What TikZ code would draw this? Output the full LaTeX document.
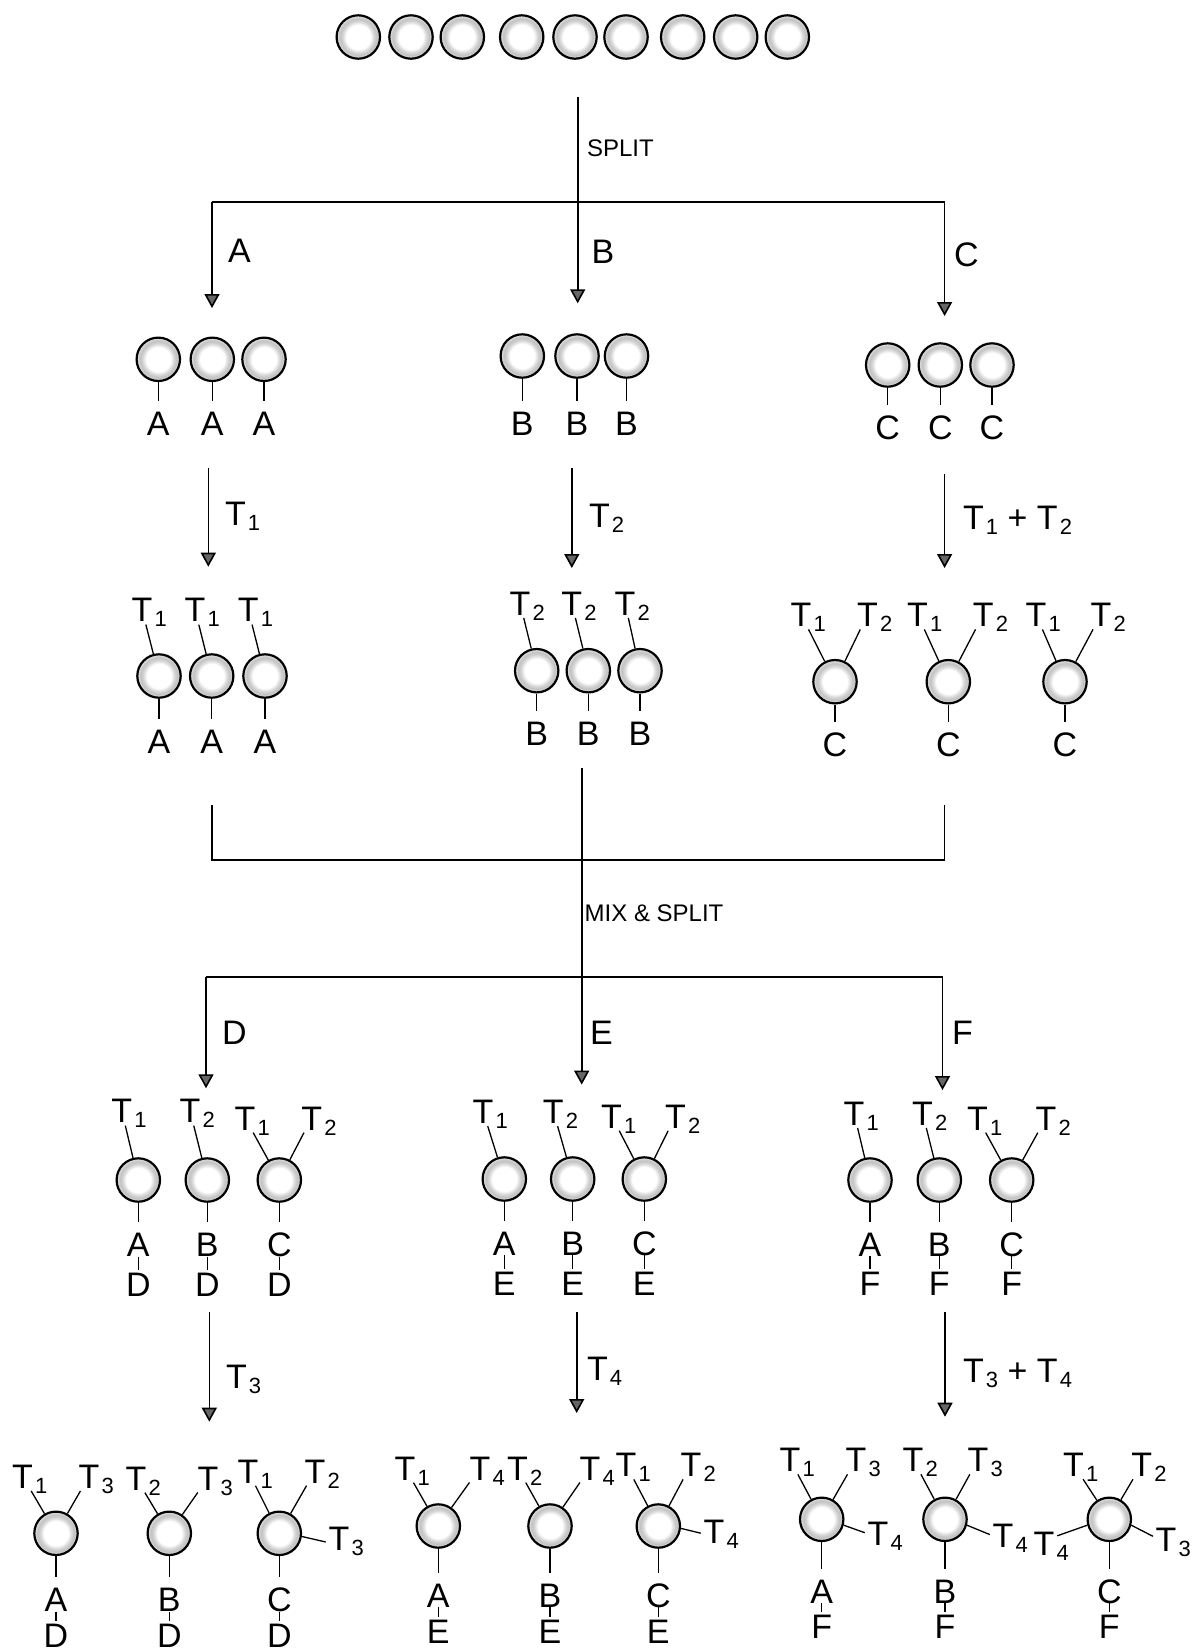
\documentclass[tikz,border=0pt]{standalone}
\usepackage{fontspec}
\setmainfont{Liberation Sans}
\usetikzlibrary{arrows.meta}

% bead: white core, light grey ring towards the rim
\pgfdeclareradialshading{beadshade}{\pgfpoint{0bp}{0bp}}{%
  color(0bp)=(white); color(14bp)=(white); color(18bp)=(black!16);
  color(21bp)=(black!24); color(23.5bp)=(black!16); color(25bp)=(black!8);
  color(50bp)=(black!8)}

\newcommand{\sbfont}{\fontsize{11}{12}\selectfont}
% T with a subscript that takes no width (node centred on the T)
\newcommand{\Tlab}[1]{T\rlap{\kern1.1pt\raisebox{-2.5pt}{\sbfont #1}}}
% T with a subscript in running text
\newcommand{\Tsb}[1]{T\kern1.1pt\raisebox{-2.5pt}{\sbfont #1}}

\tikzset{
  bead/.style={circle, draw, line width=1.1pt, minimum size=21.7pt,
    inner sep=0pt, shade, shading=beadshade},
  lab/.style={font=\fontsize{17}{20}\selectfont, inner sep=0pt, outer sep=0pt,
    text height=12.2pt, text depth=0pt, anchor=base},
  alab/.style={lab, anchor=base west},
  small/.style={font=\fontsize{12}{14}\selectfont, inner sep=0pt, anchor=base west},
  stem/.style={line width=0.65pt},
  rail/.style={line width=0.8pt},
  flow/.style={line width=0.8pt, -{Triangle[length=7pt,width=7.5pt,fill=black!60]}},
}

% bead with a letter below it
\newcommand{\beadL}[5]{%
  \node[bead] (#1) at (#2,#3) {};
  \node[lab] (#1l) at (#2,#4) {#5};
  \draw[stem, shorten >=5pt] (#1) -- (#1l);}
% second letter hanging below the first
\newcommand{\lowL}[4]{%
  \node[lab] (#1m) at (#2,#3) {#4};
  \draw[stem, shorten >=1pt] (#1l.south) -- (#1m.north);}
% T tag above a bead
\newcommand{\tagT}[5]{%
  \node[lab] (#1#2) at (#3,#4) {\Tlab{#5}};
  \draw[stem, shorten >=1.5pt] (#1) -- (#1#2);}
% T tag beside a bead: bead anchor angle #6, tag anchor angle #7
\newcommand{\sideT}[7]{%
  \node[lab] (#1#2) at (#3,#4) {\Tlab{#5}};
  \draw[stem, shorten >=1.5pt] (#1.#6) -- (#1#2.#7);}

\begin{document}
\begin{tikzpicture}[x=0.5pt, y=-0.5pt]
\useasboundingbox (0,0) rectangle (1191,1651);

% ---------- starting beads ----------
\foreach \x [count=\i] in {358.3,411,462.3,521.7,575,626,682.7,735.7,787.3}
  \node[bead] (top\i) at (\x,37) {};

% ---------- first split ----------
\coordinate (sTop) at (577.7,96.7);
\coordinate (sL) at (212,201.7);
\coordinate (sR) at (944.6,201.7);
\coordinate (tipA) at (212,308);
\coordinate (tipB) at (577.7,303.3);
\coordinate (tipC) at (944.6,316);
\draw[rail] (sL) -- (sR);
\draw[flow] (sTop) -- (tipB);
\draw[flow] (sL) -- (tipA);
\draw[flow] (sR) -- (tipC);
\node[small] (splitlab) at (586.7,156) {SPLIT};
\node[alab] (labA) at (228,262) {A};
\node[alab] (labB) at (591.7,263.3) {B};
\node[alab] (labC) at (954,266) {C};

% ---------- beads after coupling A, B, C ----------
\beadL{ra1}{158.3}{359.3}{435}{A}
\beadL{ra2}{212.3}{359.3}{435}{A}
\beadL{ra3}{264}{359.3}{435}{A}
\beadL{rb1}{522.3}{356}{435}{B}
\beadL{rb2}{577}{356}{435}{B}
\beadL{rb3}{626.5}{356}{435}{B}
\beadL{rc1}{887.7}{365}{439}{C}
\beadL{rc2}{940.3}{365}{439}{C}
\beadL{rc3}{992}{365}{439}{C}

% ---------- tagging T1 / T2 ----------
\coordinate (t1s) at (208.3,468.3);   \coordinate (t1e) at (208.3,566.7);
\coordinate (t2s) at (571.8,468.3);   \coordinate (t2e) at (571.8,568);
\coordinate (t12s) at (944.6,474);    \coordinate (t12e) at (944.6,568);
\draw[flow] (t1s) -- (t1e);
\draw[flow] (t2s) -- (t2e);
\draw[flow] (t12s) -- (t12e);
\node[alab] (lt1) at (225,525) {\Tsb{1}};
\node[alab] (lt2) at (589,527) {\Tsb{2}};
\node[alab] (lt12) at (963,529) {\Tsb{1} + \Tsb{2}};

\beadL{sa1}{159}{676}{753.3}{A}   \tagT{sa1}{t}{142}{621.7}{1}
\beadL{sa2}{211.7}{676}{753.3}{A} \tagT{sa2}{t}{195}{621.7}{1}
\beadL{sa3}{265}{676}{753.3}{A}   \tagT{sa3}{t}{248.3}{621.7}{1}
\beadL{sb1}{536.7}{670.7}{745.7}{B} \tagT{sb1}{t}{520}{615}{2}
\beadL{sb2}{588.3}{670.7}{745.7}{B} \tagT{sb2}{t}{571.7}{615}{2}
\beadL{sb3}{640}{670.7}{745.7}{B}   \tagT{sb3}{t}{625}{615}{2}
\beadL{sc1}{835}{681.7}{756.7}{C}
  \tagT{sc1}{a}{801}{626.7}{1} \tagT{sc1}{b}{867.5}{626.7}{2}
\beadL{sc2}{948.3}{681.7}{756.7}{C}
  \tagT{sc2}{a}{917.5}{626.7}{1} \tagT{sc2}{b}{983.3}{626.7}{2}
\beadL{sc3}{1065}{681.7}{756.7}{C}
  \tagT{sc3}{a}{1036}{626.7}{1} \tagT{sc3}{b}{1101}{626.7}{2}

% ---------- mix & split ----------
\coordinate (mL) at (212,805);
\coordinate (mR) at (944.6,805);
\coordinate (mB) at (944.6,860);
\draw[rail] (mL) |- (mB) -- (mR);
\coordinate (mTop) at (581.7,768);
\coordinate (tipE) at (581.7,1084.6);
\draw[flow] (mTop) -- (tipE);
\node[small] (mixlab) at (584.3,921.7) {MIX \& SPLIT};
\coordinate (nL) at (206,976.7);
\coordinate (nR) at (942.5,976.7);
\coordinate (tipD) at (206,1088.3);
\coordinate (tipF) at (942.5,1090);
\draw[rail] (nL) -- (nR);
\draw[flow] (nL) -- (tipD);
\draw[flow] (nR) -- (tipF);
\node[alab] (labD) at (222,1044) {D};
\node[alab] (labE) at (590,1044) {E};
\node[alab] (labF) at (952,1044) {F};

% ---------- beads after coupling D, E, F ----------
\beadL{ua1}{138.3}{1180}{1256.7}{A} \lowL{ua1}{138.3}{1296.7}{D}
  \tagT{ua1}{t}{121.7}{1122.7}{1}
\beadL{ua2}{207.3}{1180}{1256.7}{B} \lowL{ua2}{207.3}{1296.7}{D}
  \tagT{ua2}{t}{190}{1122.7}{2}
\beadL{ua3}{279.3}{1180}{1256.7}{C} \lowL{ua3}{279.3}{1296.7}{D}
  \tagT{ua3}{a}{245}{1130}{1} \tagT{ua3}{b}{311.7}{1130}{2}

\beadL{ub1}{504.3}{1179}{1255}{A} \lowL{ub1}{504.3}{1295}{E}
  \tagT{ub1}{t}{483}{1123.3}{1}
\beadL{ub2}{572.7}{1179}{1255}{B} \lowL{ub2}{572.7}{1295}{E}
  \tagT{ub2}{t}{553.3}{1123.3}{2}
\beadL{ub3}{644.3}{1179}{1255}{C} \lowL{ub3}{644.3}{1295}{E}
  \tagT{ub3}{a}{611.5}{1128}{1} \tagT{ub3}{b}{675.5}{1128}{2}

\beadL{uc1}{870}{1180}{1256}{A} \lowL{uc1}{870}{1295}{F}
  \tagT{uc1}{t}{854}{1125}{1}
\beadL{uc2}{939.3}{1180}{1256}{B} \lowL{uc2}{939.3}{1295}{F}
  \tagT{uc2}{t}{922.5}{1125}{2}
\beadL{uc3}{1011.7}{1180}{1256}{C} \lowL{uc3}{1011.7}{1295}{F}
  \tagT{uc3}{a}{977.5}{1130}{1} \tagT{uc3}{b}{1046}{1130}{2}

% ---------- tagging T3 / T4 ----------
\coordinate (t3s) at (209.3,1312);  \coordinate (t3e) at (209.3,1421.7);
\coordinate (t4s) at (576.7,1312);  \coordinate (t4e) at (576.7,1413);
\coordinate (t34s) at (945,1312);   \coordinate (t34e) at (945,1416.7);
\draw[flow] (t3s) -- (t3e);
\draw[flow] (t4s) -- (t4e);
\draw[flow] (t34s) -- (t34e);
\node[alab] (lt3) at (226,1388) {\Tsb{3}};
\node[alab] (lt4) at (587,1380) {\Tsb{4}};
\node[alab] (lt34) at (963,1382) {\Tsb{3} + \Tsb{4}};

\beadL{va1}{56}{1533.3}{1611.7}{A} \lowL{va1}{56}{1647}{D}
  \tagT{va1}{a}{22.5}{1488.3}{1} \tagT{va1}{b}{89}{1488.3}{3}
\beadL{va2}{169.3}{1533.3}{1611.7}{B} \lowL{va2}{169.3}{1647}{D}
  \tagT{va2}{a}{136}{1490}{2} \tagT{va2}{b}{208}{1490}{3}
\beadL{va3}{279.3}{1533.3}{1611.7}{C} \lowL{va3}{279.3}{1647}{D}
  \tagT{va3}{a}{248}{1483}{1} \tagT{va3}{b}{315}{1483}{2}
  \sideT{va3}{c}{339}{1550}{3}{-8}{205}

\beadL{vb1}{438.3}{1526}{1607}{A} \lowL{vb1}{438.3}{1643}{E}
  \tagT{vb1}{a}{405}{1480}{1} \tagT{vb1}{b}{480}{1480}{4}
\beadL{vb2}{550}{1526}{1607}{B} \lowL{vb2}{550}{1643}{E}
  \tagT{vb2}{a}{517.5}{1480}{2} \tagT{vb2}{b}{590}{1480}{4}
\beadL{vb3}{658.3}{1526}{1607}{C} \lowL{vb3}{658.3}{1643}{E}
  \tagT{vb3}{a}{626}{1476.7}{1} \tagT{vb3}{b}{691}{1476.7}{2}
  \sideT{vb3}{c}{714}{1543.3}{4}{-6}{195}

\beadL{vc1}{821.7}{1519.3}{1603.3}{A} \lowL{vc1}{821.7}{1638}{F}
  \tagT{vc1}{a}{790}{1471.7}{1} \tagT{vc1}{b}{856}{1471.7}{3}
  \sideT{vc1}{c}{878}{1545}{4}{-15}{185}
\beadL{vc2}{945}{1519.3}{1603.3}{B} \lowL{vc2}{945}{1638}{F}
  \tagT{vc2}{a}{913}{1471.7}{2} \tagT{vc2}{b}{978}{1471.7}{3}
  \sideT{vc2}{c}{1003}{1547}{4}{-15}{185}
\beadL{vc3}{1109.3}{1519.3}{1603.3}{C} \lowL{vc3}{1109.3}{1638}{F}
  \tagT{vc3}{a}{1073.5}{1476.7}{1} \tagT{vc3}{b}{1141.7}{1476.7}{2}
  \sideT{vc3}{c}{1044}{1555}{4}{195}{30}
  \sideT{vc3}{d}{1166}{1551.7}{3}{-15}{170}

\end{tikzpicture}
\end{document}
